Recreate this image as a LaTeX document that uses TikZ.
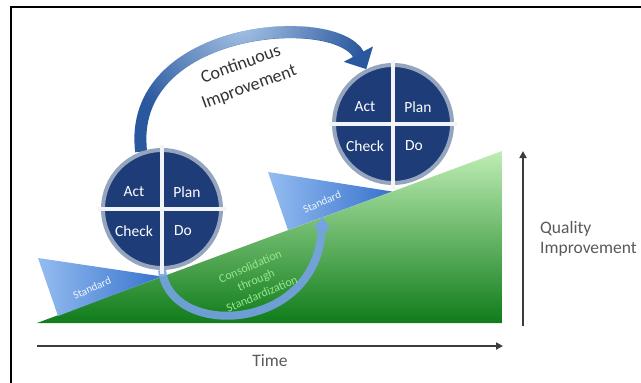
\documentclass[tikz,border=0pt]{standalone}
\usepackage{fontspec}
\setmainfont{Carlito}
\usetikzlibrary{arrows.meta}
\usetikzlibrary{calc}
\usetikzlibrary{positioning}
\usetikzlibrary{fadings}
\usetikzlibrary{backgrounds}
\definecolor{PdcaNavy}{RGB}{30,60,120}
\definecolor{PdcaRing}{RGB}{150,165,190}
\definecolor{ArcDark}{RGB}{42,88,158}
\definecolor{ArcLight}{RGB}{170,198,232}
\definecolor{StdLight}{RGB}{148,188,240}
\definecolor{StdDark}{RGB}{55,115,205}
\definecolor{SlopeTop}{RGB}{190,238,180}
\definecolor{SlopeMid}{RGB}{64,172,60}
\definecolor{SlopeLow}{RGB}{16,124,26}
\definecolor{ConsBlue}{RGB}{118,162,230}
\definecolor{ConsText}{RGB}{150,232,140}
\definecolor{AxisGray}{RGB}{60,60,60}
\tikzfading[name=arcglow, inner color=transparent!0, outer color=transparent!100]

\begin{document}
\begin{tikzpicture}[x=1pt, y=-1pt]
			\tikzstyle{pdca} = [circle, fill=PdcaNavy, draw=PdcaRing, line width=4pt, minimum size=118pt, inner sep=0pt]
			\tikzstyle{divider} = [draw=white!88!PdcaRing, line width=3.5pt]
			\tikzstyle{quad} = [text=white, font=\fontsize{15.5}{18}\selectfont, inner sep=0pt]
			\tikzstyle{stdtext} = [text=white!85!StdLight, font=\fontsize{11}{13}\selectfont, rotate=24, inner sep=0pt]
			\tikzstyle{axis} = [draw=AxisGray, line width=1.8pt, -{Triangle[length=7pt,width=7pt]}]
			\tikzstyle{caption} = [text=AxisGray!85, font=\fontsize{17.5}{20}\selectfont, align=left, inner sep=0pt]
			\tikzstyle{ciarrow} = [draw=ArcDark, line width=12pt, -{Triangle[length=17pt,width=32pt]}]
			\tikzstyle{ciglow} = [draw=ArcLight, line width=12pt, shorten >=17pt, path fading=arcglow, fit fading=false, fading transform={shift={(240,20)}, scale=5}]
			\tikzstyle{consarrow} = [draw=ConsBlue, draw opacity=0.9, line width=8pt, -{Triangle[length=12pt,width=17pt]}]

			\useasboundingbox (0,0) rectangle (641,383);
			\draw[line width=2.5pt] (11,383) -- (11,7) -- (641,7);

			\node[pdca] (pdca1) at (162,209) {};
			\node[pdca, on grid, above right=85pt and 231pt of pdca1] (pdca2) {};

			\begin{scope}[on background layer]
				\coordinate (s0) at (37,323);
				\coordinate (s1) at (502,323);
				\coordinate (s2) at (502,151);
				\shade[top color=SlopeTop, middle color=SlopeMid, bottom color=SlopeLow] (s0) -- (s1) -- (s2) -- cycle;

				\coordinate (w1a) at (38,258);
				\coordinate (w1b) at (58,316);
				\coordinate (w1c) at (162,276.5);
				\coordinate (w2a) at (268,172);
				\coordinate (w2b) at (288,230);
				\coordinate (w2c) at (392,191.5);
				\shade[left color=StdLight, right color=StdDark] (w1a) -- (w1b) -- (w1c) -- cycle;
				\shade[left color=StdLight, right color=StdDark] (w2a) -- (w2b) -- (w2c) -- cycle;
				\node[stdtext] (std1) at (92,288) {Standard};
				\node[stdtext] (std2) at (322,202) {Standard};

				\coordinate (cons) at ($(w2b)!0.33!(w2c)$);
				\draw[consarrow] (pdca1.south) .. controls +(8,70) and +(-5,115) .. (cons);
				\node[text=ConsText, font=\fontsize{12}{15}\selectfont, align=center, rotate=23] (constext) at (256,280) {Consolidation\\through\\Standardization};

				\draw[ciarrow] (pdca1.110) .. controls +(-15,-126) and +(-31,-59) .. (pdca2.116);
				\draw[ciglow] (pdca1.110) .. controls +(-15,-126) and +(-31,-59) .. (pdca2.116);
			\end{scope}

			\draw[divider] ([yshift=3pt]pdca1.north) -- ([yshift=-4pt]pdca1.south);
			\draw[divider] ([xshift=-3pt]pdca1.west) -- ([xshift=3pt]pdca1.east);
			\draw[divider] ([yshift=3pt]pdca2.north) -- ([yshift=-4pt]pdca2.south);
			\draw[divider] ([xshift=-3pt]pdca2.west) -- ([xshift=3pt]pdca2.east);

			\node[quad] (act1) at ([shift={(-28,-17)}]pdca1.center) {Act};
			\node[quad] (plan1) at ([shift={(25,-17)}]pdca1.center) {Plan};
			\node[quad] (check1) at ([shift={(-28,22)}]pdca1.center) {Check};
			\node[quad] (do1) at ([shift={(21,22)}]pdca1.center) {Do};
			\node[quad] (act2) at ([shift={(-28,-17)}]pdca2.center) {Act};
			\node[quad] (plan2) at ([shift={(25,-17)}]pdca2.center) {Plan};
			\node[quad] (check2) at ([shift={(-28,22)}]pdca2.center) {Check};
			\node[quad] (do2) at ([shift={(21,22)}]pdca2.center) {Do};

			\node[text=black!80, font=\fontsize{18}{24}\selectfont, align=center, rotate=20] (citext) at (245,76) {Continuous\\Improvement};

			\coordinate (t0) at (37,346);
			\coordinate (t1) at (503,346);
			\coordinate (q0) at (523,326);
			\coordinate (q1) at (523,151);
			\draw[axis] (t0) -- node[caption, below=8pt] (time) {Time} (t1);
			\draw[axis] (q0) -- coordinate (qmid) (q1);
			\node[caption, right=17pt of qmid] (quality) {Quality\\Improvement};
	\end{tikzpicture}
\end{document}
